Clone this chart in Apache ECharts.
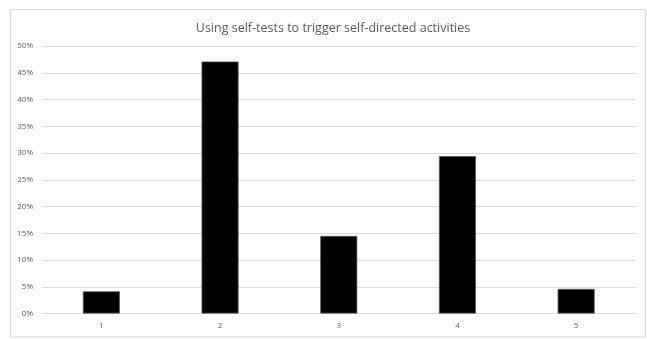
<!DOCTYPE html>
<html>
<head>
<meta charset="utf-8">
<script src="https://cdn.jsdelivr.net/npm/echarts@6/dist/echarts.min.js"></script>
<style>
  html, body { margin: 0; padding: 0; background: #ffffff; }
  #chart { width: 647px; height: 339px; }
</style>
</head>
<body>
<div id="chart"></div>
<script>
// Chart data
var categories = ['1', '2', '3', '4', '5'];
var shares = [0.0415, 0.471, 0.145, 0.294, 0.046];
var yTicks = { min: 0, max: 0.5, step: 0.05 };
var chartTitle = 'Using self-tests to trigger self-directed activities';

var chart = echarts.init(document.getElementById('chart'), null, { renderer: 'canvas' });

chart.setOption({
  animation: false,
  backgroundColor: '#ffffff',
  title: {
    text: chartTitle,
    left: 328,
    textAlign: 'center',
    top: 17,
    textStyle: {
      fontFamily: 'Open Sans',
      fontSize: 12.5,
      fontWeight: 'normal',
      color: '#595959'
    }
  },
  graphic: [{
    type: 'rect',
    shape: { x: 10.5, y: 9.5, width: 635, height: 327.5 },
    style: { fill: 'none', stroke: '#d9d9d9', lineWidth: 1 },
    silent: true
  }],
  grid: { left: 42, right: 11.5, top: 46, bottom: 25.5 },
  xAxis: {
    type: 'category',
    data: categories,
    axisTick: { show: false },
    axisLine: { show: true, lineStyle: { color: '#d9d9d9', width: 1 } },
    axisLabel: {
      color: '#595959',
      fontFamily: 'Open Sans',
      fontSize: 8,
      margin: 8
    }
  },
  yAxis: {
    type: 'value',
    min: yTicks.min,
    max: yTicks.max,
    interval: yTicks.step,
    axisLine: { show: false },
    axisTick: { show: false },
    splitLine: { lineStyle: { color: '#d9d9d9', width: 1 } },
    axisLabel: {
      color: '#595959',
      fontFamily: 'Open Sans',
      fontSize: 8,
      margin: 9,
      formatter: function (v) { return Math.round(v * 100) + '%'; }
    }
  },
  series: [{
    type: 'bar',
    data: shares,
    barWidth: 37,
    itemStyle: { color: '#000000', borderColor: '#595959', borderWidth: 0.75 }
  }]
});
</script>
</body>
</html>
